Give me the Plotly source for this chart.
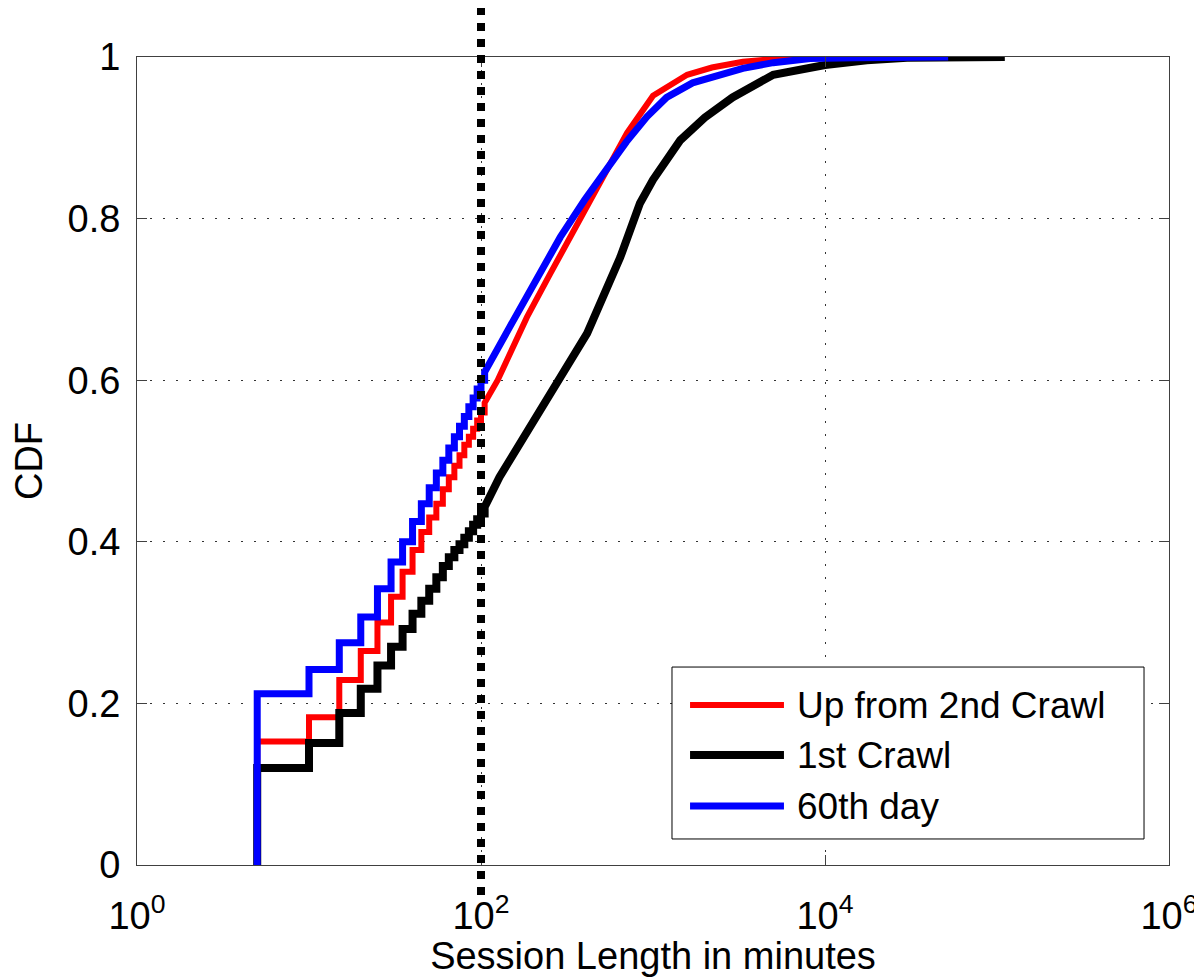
import plotly.graph_objects as go

# ---------------- data ----------------
# step part of the empirical CDFs (5-minute crawl resolution)
step_minutes = [5, 10, 15, 20, 25, 30, 35, 40, 45, 50, 55, 60, 65, 70, 75, 80, 85, 90, 95, 100]
red_steps = [0.153, 0.183, 0.229, 0.265, 0.300, 0.332, 0.363, 0.390, 0.412, 0.430,
             0.447, 0.465, 0.480, 0.494, 0.507, 0.520, 0.530, 0.540, 0.550, 0.560]
black_steps = [0.120, 0.151, 0.188, 0.218, 0.247, 0.270, 0.292, 0.311, 0.327, 0.342,
               0.356, 0.370, 0.381, 0.390, 0.397, 0.405, 0.413, 0.421, 0.428, 0.435]
blue_steps = [0.212, 0.242, 0.275, 0.307, 0.342, 0.375, 0.400, 0.425, 0.447, 0.467,
              0.485, 0.501, 0.516, 0.530, 0.543, 0.555, 0.567, 0.578, 0.589, 0.600]

# smooth tail of the CDFs
red_tail_x = [105, 125, 185, 250, 377, 500, 707, 1000, 1580, 2200, 3330, 6000, 20000]
red_tail_y = [0.572, 0.600, 0.678, 0.730, 0.800, 0.848, 0.906, 0.952, 0.978, 0.987, 0.994, 0.999, 1.0]
black_tail_x = [105, 128, 180, 241, 300, 414, 645, 770, 840, 1000, 1440, 2000, 2900, 5000,
                10000, 17500, 30000, 111000]
black_tail_y = [0.443, 0.480, 0.532, 0.576, 0.610, 0.658, 0.752, 0.800, 0.819, 0.848, 0.897,
                0.925, 0.950, 0.978, 0.990, 0.996, 0.999, 1.0]
blue_tail_x = [105, 147, 200, 289, 400, 563, 700, 921, 1200, 1700, 2500, 3330, 5000, 8200,
               15000, 52000]
blue_tail_y = [0.610, 0.666, 0.717, 0.777, 0.823, 0.869, 0.895, 0.926, 0.950, 0.968, 0.979,
               0.986, 0.993, 0.998, 0.999, 1.0]

series_names = ["Up from 2nd Crawl", "1st Crawl", "60th day"]
series_colors = ["#ff0000", "#000000", "#0000ff"]
series_widths = [6, 8, 7]

x_tick_vals = [1, 100, 10000, 1000000]
x_tick_text = ["10<sup>0</sup>", "10<sup>2</sup>", "10<sup>4</sup>", "10<sup>6</sup>"]
y_tick_vals = [0, 0.2, 0.4, 0.6, 0.8, 1]
y_tick_text = ["0", "0.2", "0.4", "0.6", "0.8", "1"]
threshold_minutes = 100

FONT = "Liberation Sans, Arial, Helvetica, sans-serif"


def build(step_x, step_y, tail_x, tail_y):
    xs = [step_x[0]]
    ys = [0.0]
    for i in range(len(step_x)):
        xs.append(step_x[i])
        ys.append(step_y[i])
        nxt = step_x[i + 1] if i + 1 < len(step_x) else tail_x[0]
        xs.append(nxt)
        ys.append(step_y[i])
    xs += tail_x
    ys += tail_y
    return xs, ys


curves = [
    build(step_minutes, red_steps, red_tail_x, red_tail_y),
    build(step_minutes, black_steps, black_tail_x, black_tail_y),
    build(step_minutes, blue_steps, blue_tail_x, blue_tail_y),
]

fig = go.Figure()
for (xs, ys), name, col, w in zip(curves, series_names, series_colors, series_widths):
    fig.add_trace(go.Scatter(x=xs, y=ys, mode="lines", name=name,
                             line=dict(color=col, width=w), showlegend=False))

# vertical dotted threshold line (extends beyond the axes like the original)
fig.add_shape(type="line", xref="x", yref="paper", x0=threshold_minutes, x1=threshold_minutes,
              y0=-0.037, y1=1.062, line=dict(color="black", width=8, dash="dot"), layer="above")

# manual legend box
lx0, lx1, ly0, ly1 = 0.5184, 0.9758, 0.0322, 0.2450
fig.add_shape(type="rect", xref="paper", yref="paper", x0=lx0, x1=lx1, y0=ly0, y1=ly1,
              line=dict(color="black", width=1), fillcolor="white", layer="above")
row_y = [0.198, 0.136, 0.073]
for name, col, w, ry in zip(series_names, series_colors, series_widths, row_y):
    fig.add_shape(type="line", xref="paper", yref="paper", x0=0.5359, x1=0.6269, y0=ry, y1=ry,
                  line=dict(color=col, width=w), layer="above")
    fig.add_annotation(xref="paper", yref="paper", x=0.6376, y=ry, text=name, showarrow=False,
                       xanchor="left", yanchor="middle", font=dict(family=FONT, size=37, color="black"))

axis_common = dict(
    showline=True, linecolor="#404040", linewidth=1, mirror="ticks",
    ticks="inside", ticklen=10, tickcolor="#404040", tickwidth=1,
    showgrid=True, gridcolor="rgba(0,0,0,0.8)", gridwidth=1, griddash="2px,11px",
    zeroline=False, tickfont=dict(family=FONT, size=38, color="black"),
)

fig.update_xaxes(type="log", range=[0, 6], tickvals=x_tick_vals, ticktext=x_tick_text,
                 title=dict(text="Session Length in minutes", font=dict(family=FONT, size=38, color="black"),
                            standoff=13),
                 ticklabelstandoff=17, **axis_common)
fig.update_yaxes(range=[0, 1], tickvals=y_tick_vals, ticktext=y_tick_text,
                 title=dict(text="CDF", font=dict(family=FONT, size=38, color="black"), standoff=14),
                 ticklabelstandoff=8, **axis_common)

fig.update_layout(
    width=1194, height=969,
    margin=dict(l=129, r=33, t=49, b=112, autoexpand=False),
    paper_bgcolor="white", plot_bgcolor="white",
    font=dict(family=FONT, color="black"),
    showlegend=False,
)

fig.write_html("out.html")
